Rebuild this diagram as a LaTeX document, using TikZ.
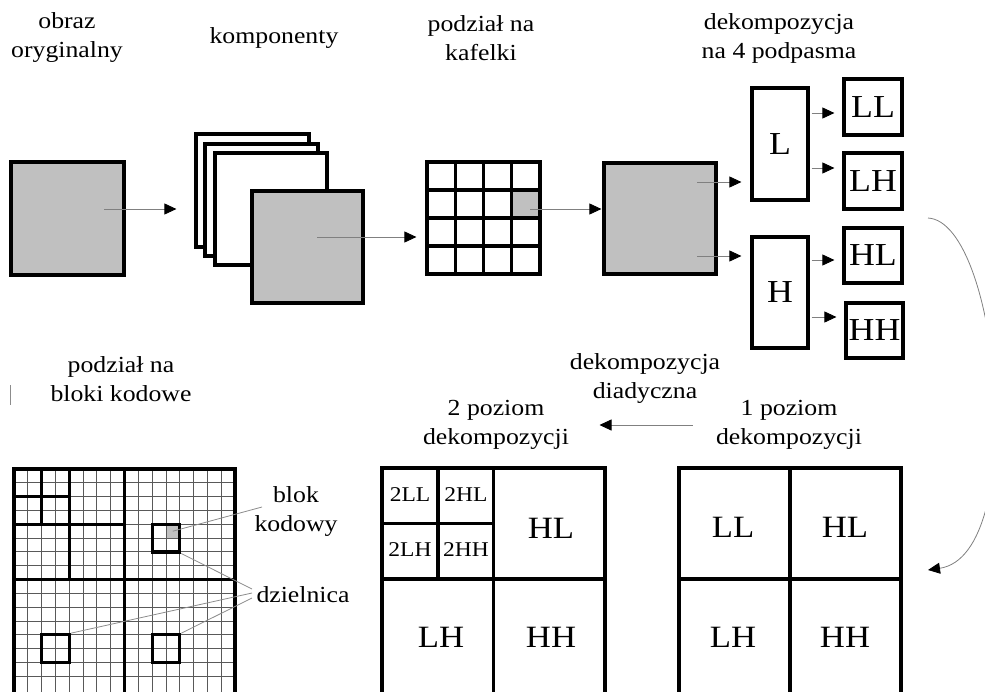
\documentclass[tikz,border=0pt]{standalone}
\usepackage{fontspec}
\setmainfont[FakeStretch=1.12]{Liberation Serif}
\usetikzlibrary{arrows.meta}
\definecolor{imggray}{RGB}{192,192,192}

\begin{document}
\begin{tikzpicture}[x=1pt,y=-1pt,
    thickbox/.style={draw,line width=3.2pt,inner sep=0pt},
    img/.style={thickbox,fill=imggray},
    band/.style={thickbox,font=\fontsize{32}{32}\selectfont},
    sub/.style={inner sep=0pt,font=\fontsize{31}{31}\selectfont},
    subsmall/.style={inner sep=0pt,font=\fontsize{21}{21}\selectfont},
    caption/.style={align=center,font=\fontsize{23}{29}\selectfont},
    flow/.style={draw=black!50,line width=0.8pt,-{Triangle[length=12pt,width=11pt,color=black]}},
    leader/.style={draw=black!45,line width=0.8pt},
    fine/.style={black!65,line width=0.8pt},
    bold/.style={line width=3.2pt}]
  \useasboundingbox (0,0) rectangle (985,691);

  % Captions
  \node[caption] (t-orig) at (67,38) {obraz\\oryginalny};
  \node[caption] (t-comp) at (274,38) {komponenty};
  \node[caption] (t-tile) at (481,38) {podział na\\kafelki};
  \node[caption] (t-band) at (779,38) {dekompozycja\\na 4 podpasma};
  \node[caption] (t-cb) at (121,379) {podział na\\bloki kodowe};
  \node[caption] (t-dyad) at (645,378) {dekompozycja\\diadyczna};
  \node[caption] (t-lev2) at (496,425) {2 poziom\\dekompozycji};
  \node[caption] (t-lev1) at (789,425) {1 poziom\\dekompozycji};
  \node[caption] (t-blk) at (296,511) {blok\\kodowy};
  \node[caption] (t-prec) at (303,595) {dzielnica};

  % Original image and its components
  \node[img,minimum width=113pt,minimum height=113pt] (orig) at (67.5,218.5) {};
  \node[thickbox,fill=white,minimum width=113pt,minimum height=113pt] (comp1) at (252.5,190.5) {};
  \node[thickbox,fill=white,minimum width=113pt,minimum height=112pt] (comp2) at (261.5,200) {};
  \node[thickbox,fill=white,minimum width=112pt,minimum height=112pt] (comp3) at (271,209) {};
  \node[img,minimum width=111pt,minimum height=112pt] (comp4) at (307.5,247) {};

  % Tiles
  \fill[imggray] (511.75,190) rectangle (540,218);
  \node[thickbox,minimum width=113pt,minimum height=112pt] (tiles) at (483.5,218) {};
  \foreach \k in {1,2,3} {
    \draw[bold] ({427+\k*28.25},162) -- ++(0,112);
    \draw[bold] (427,{162+\k*28}) -- ++(113,0);
  }

  % One tile split into subbands
  \node[img,minimum width=112pt,minimum height=111pt] (split) at (660,218.5) {};
  \node[band,minimum width=56pt,minimum height=112pt] (L) at (780,144) {L};
  \node[band,minimum width=56pt,minimum height=111pt] (H) at (780,292.5) {H};
  \node[band,minimum width=58pt,minimum height=56pt] (LL) at (873,107) {LL};
  \node[band,minimum width=58pt,minimum height=56pt] (LH) at (873,181) {LH};
  \node[band,minimum width=58pt,minimum height=55pt] (HL) at (873,255.5) {HL};
  \node[band,minimum width=57pt,minimum height=55pt] (HH) at (874.5,330.5) {HH};

  % Arrows along the top row
  \coordinate (orig-c) at (104,209);
  \coordinate (comp-c) at (317,237);
  \coordinate (tile-c) at (530,209);
  \coordinate (low-c) at (697,182);
  \coordinate (high-c) at (697,256);
  \draw[flow,shorten >=18pt] (orig-c) -- (comp1.west |- orig-c);
  \draw[flow,shorten >=9pt] (comp-c) -- (tiles.west |- comp-c);
  \draw[flow,shorten >=1pt] (tile-c) -- (split.west |- tile-c);
  \draw[flow,shorten >=9pt] (low-c) -- (L.west |- low-c);
  \draw[flow,shorten >=9pt] (high-c) -- (H.west |- high-c);
  \foreach \src/\dst/\yy in {L/LL/113,L/LH/168,H/HL/260,H/HH/317}
    \draw[flow,shorten <=2pt,shorten >=8pt] (\src.east |- 0,\yy) -- (\dst.west |- 0,\yy);

  % Back down to the first level
  \coordinate (cycle-out) at (928,218);
  \coordinate (cycle-in) at (928,570);
  \draw[flow] (cycle-out) .. controls (1000,222) and (1030,555) .. (cycle-in);

  % First level
  \node[thickbox,minimum width=222pt,minimum height=226pt] (lev1) at (790,581) {};
  \draw[bold] (lev1.north) -- (lev1.south);
  \draw[bold] (lev1.west |- 0,579) -- (lev1.east |- 0,579);
  \node[sub] at (733,527) {LL};
  \node[sub] at (845,527) {HL};
  \node[sub] at (733,637) {LH};
  \node[sub] at (845,637) {HH};

  % Second level
  \node[thickbox,minimum width=223pt,minimum height=226pt] (lev2) at (493.5,581) {};
  \draw[bold] (lev2.north) -- (lev2.south);
  \draw[bold] (lev2.west |- 0,579) -- (lev2.east |- 0,579);
  \draw[bold] (438,468) -- (438,579);
  \draw[bold] (382,523.5) -- (493.5,523.5);
  \node[subsmall] at (410,495) {2LL};
  \node[subsmall] at (466,495) {2HL};
  \node[subsmall] at (410,550) {2LH};
  \node[subsmall] at (466,550) {2HH};
  \node[sub] at (551,528) {HL};
  \node[sub] at (441,637) {LH};
  \node[sub] at (551,637) {HH};

  \draw[flow,shorten <=20pt,shorten >=27pt] (t-lev1.west) -- (t-lev2.east);

  % Code blocks
  \fill[imggray] (165.9,524.25) rectangle (179.75,538.06);
  \foreach \i in {1,...,15} {
    \draw[fine] ({14+\i*13.8125},469) -- ++(0,225);
    \draw[fine] (14,{469+\i*13.8125}) -- ++(221,0);
  }
  \node[thickbox,minimum width=221pt,minimum height=225pt] (cb) at (124.5,581.5) {};
  \draw[bold] (cb.north) -- (cb.south);
  \draw[bold] (cb.west |- 0,579.5) -- (cb.east |- 0,579.5);
  \draw[bold] (69.25,469) -- (69.25,579.5);
  \draw[bold] (14,524.25) -- (124.5,524.25);
  \draw[bold] (41.6,469) -- (41.6,524.25);
  \draw[bold] (14,496.6) -- (69.25,496.6);
  \node[thickbox,minimum size=27.6pt] (blkA) at (165.9,538.1) {};
  \node[thickbox,minimum size=27.6pt] (blkB) at (55.4,648.6) {};
  \node[thickbox,minimum size=27.6pt] (blkC) at (165.9,648.6) {};

  % Leaders
  \coordinate (blk-cell) at (172.8,531.2);
  \coordinate (blk-tag) at (262,507);
  \coordinate (prec-a) at (252,589);
  \coordinate (prec-b) at (252,593);
  \coordinate (prec-c) at (252,598);
  \draw[leader] (blk-tag) -- (blk-cell);
  \draw[leader] (prec-a) -- (blkA.south east);
  \draw[leader] (prec-b) -- (blkB.north east);
  \draw[leader] (prec-c) -- (blkC.north east);

  \draw[black!45,line width=0.8pt] (10,385) -- (10,405);
\end{tikzpicture}
\end{document}
